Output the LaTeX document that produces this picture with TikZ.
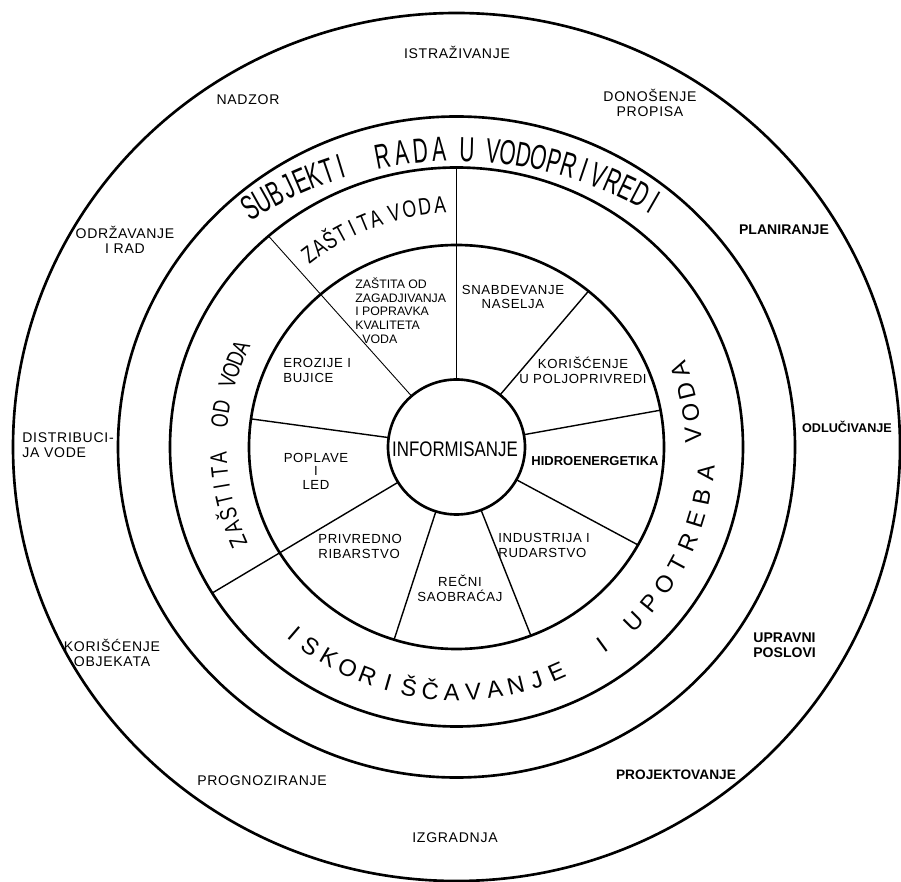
\documentclass[tikz,border=0pt]{standalone}
\usepackage{fontspec}
\setmainfont{Liberation Sans}
\newfontfamily\narrowfont[FakeStretch=0.6]{Liberation Sans}
\newfontfamily\ringfont[FakeStretch=0.75]{Liberation Sans}
\newfontfamily\infofont[FakeStretch=0.8]{Liberation Sans}
\newfontfamily\labelfont[LetterSpace=5]{Liberation Sans}

\begin{document}
\begin{tikzpicture}[x=0.02cm, y=0.02cm,
  ring/.style={line width=1.5pt},
  spoke/.style={line width=0.8pt},
  thinspoke/.style={line width=0.5pt},
  sector/.style={font=\labelfont\fontsize{7.5}{8.5}\selectfont, align=center, inner sep=0pt},
  boldsector/.style={sector, font=\bfseries\fontsize{7.4}{8.5}\selectfont},
  outer/.style={font=\labelfont\fontsize{8}{8.5}\selectfont, align=center, inner sep=0pt},
  boldouter/.style={outer, font=\bfseries\fontsize{8}{8.8}\selectfont},
  bigletter/.style={font=\narrowfont\fontsize{19.8}{20}\selectfont, anchor=base, inner sep=0pt},
  ringletter/.style={font=\ringfont\fontsize{13.5}{14}\selectfont, anchor=base, inner sep=0pt},
  wideletter/.style={font=\fontsize{13.5}{14}\selectfont, anchor=base, inner sep=0pt}]
  \path[use as bounding box, fill=white] (-456.5,-434) rectangle (444.5,447);

  % rings
  \foreach \rx/\ry in {443.5/434, 338.5/330.5, 286.5/279.5, 207.5/202, 68.5/67.5}
    \draw[ring] (0,0) ellipse [x radius=\rx, y radius=\ry];

  % sector borders
  \foreach \a in {50.5, 10.5, -29, -69, -107.5, 172}
    \draw[spoke] (\a:68.5 and 67.5) -- (\a:207.5 and 202);
  \draw[spoke] (211.5:68.5 and 67.5) -- (211.5:286.5 and 279.5);
  \draw[thinspoke] (131:68.5 and 67.5) -- (131:286.5 and 279.5);
  \draw[thinspoke] (90:68.5 and 67.5) -- (90:286.5 and 279.5);

  % centre
  \node[font=\infofont\fontsize{12}{12}\selectfont, inner sep=0pt] (info) at (-1.5,-2) {INFORMISANJE};

  % inner sectors
  \node[sector, align=left, anchor=west, font=\fontsize{7}{7.8}\selectfont] (zagad) at (-101.5,136.5)
    {ZAŠTITA OD\\ZAGADJIVANJA\\I POPRAVKA\\KVALITETA\\\hspace*{4pt}VODA};
  \node[sector] (snabd) at (56.5,150) {SNABDEVANJE\\NASELJA};
  \node[sector] (poljo) at (126.5,77) {KORIŠĆENJE\\U POLJOPRIVREDI};
  \node[boldsector] (hidro) at (138.5,-14) {HIDROENERGETIKA};
  \node[sector, align=left, anchor=west] (indus) at (41.5,-98) {INDUSTRIJA I\\RUDARSTVO};
  \node[sector] (recni) at (3.5,-141) {REČNI\\SAOBRAĆAJ};
  \node[sector, align=left, anchor=west] (ribar) at (-138.5,-99) {PRIVREDNO\\RIBARSTVO};
  \node[sector, font=\labelfont\fontsize{7.5}{7.7}\selectfont] (poplave) at (-140.5,-24) {POPLAVE\\I\\LED};
  \node[sector, align=left, anchor=west] (erozije) at (-173.5,77) {EROZIJE I\\BUJICE};

  % outer ring
  \node[outer] (istraz) at (0.5,395) {ISTRAŽIVANJE};
  \node[outer] (nadzor) at (-208.5,347) {NADZOR};
  \node[outer] (propisi) at (193.5,344) {DONOŠENJE\\PROPISA};
  \node[boldouter] (plan) at (327.5,217) {PLANIRANJE};
  \node[boldouter, font=\bfseries\fontsize{7.2}{8}\selectfont] (odluc) at (390.5,20) {ODLUČIVANJE};
  \node[boldouter, align=left, anchor=west] (upravni) at (296.5,-198) {UPRAVNI\\POSLOVI};
  \node[boldouter, font=\bfseries\fontsize{7.8}{8.5}\selectfont] (projekt) at (219.5,-328) {PROJEKTOVANJE};
  \node[outer] (izgrad) at (-1.5,-391) {IZGRADNJA};
  \node[outer] (prognoz) at (-194.5,-334) {PROGNOZIRANJE};
  \node[outer] (objekti) at (-344.5,-206) {KORIŠĆENJE\\OBJEKATA};
  \node[outer, align=left, anchor=west] (distrib) at (-434.5,2) {DISTRIBUCI-\\JA VODE};
  \node[outer] (odrz) at (-331.5,207) {ODRŽAVANJE\\I RAD};

  % SUBJEKTI RADA U VODOPRIVREDI
  \begin{scope}[shift={(0,-98.7)}]
    \foreach \ch [count=\i from 0] in {S,U,B,J,E,K,T,I}
      {\pgfmathsetmacro\ang{121.4-2.07*\i}
       \node[bigletter, rotate=\ang-90] (subj\i) at (\ang:384.5) {\ch};}
    \foreach \ch [count=\i from 0] in {R,A,D,A}
      {\pgfmathsetmacro\ang{100.7-2.73*\i}
       \node[bigletter, rotate=\ang-90] (rada\i) at (\ang:384.5) {\ch};}
    \node[bigletter, rotate=-1.5] (uu) at (88.5:384.5) {U};
    \foreach \ch [count=\i from 0] in {V,O,D,O,P,R,I,V,R,E,D,I}
      {\pgfmathsetmacro\ang{84.7-2.24*\i}
       \node[bigletter, rotate=\ang-90] (vodop\i) at (\ang:384.5) {\ch};}
  \end{scope}

  % ZAŠTITA VODA
  \foreach \ch [count=\i from 0] in {Z,A,Š,T,I,T,A}
    {\pgfmathsetmacro\ang{127.4-3.0*\i}
     \node[ringletter, rotate=\ang-90] (zv\i) at (\ang:235 and 234) {\ch};}
  \foreach \ch [count=\i from 0] in {V,O,D,A}
    {\pgfmathsetmacro\ang{104.8-3.63*\i}
     \node[ringletter, rotate=\ang-90] (zvv\i) at (\ang:235 and 234) {\ch};}

  % ZAŠTITA OD VODA
  \foreach \ch [count=\i from 0] in {Z,A,Š,T,I,T,A}
    {\pgfmathsetmacro\ang{203.6-3.5*\i}
     \node[ringletter, rotate=\ang-90] (zo\i) at (\ang:230 and 228) {\ch};}
  \foreach \ch [count=\i from 0] in {O,D}
    {\pgfmathsetmacro\ang{173.5-3.2*\i}
     \node[ringletter, rotate=\ang-90] (zod\i) at (\ang:230 and 228) {\ch};}
  \foreach \ch [count=\i from 0] in {V,O,D,A}
    {\pgfmathsetmacro\ang{164-3.0*\i}
     \node[ringletter, rotate=\ang-90] (zov\i) at (\ang:230 and 228) {\ch};}

  % ISKORIŠČAVANJE I UPOTREBA VODA
  \foreach \ch [count=\i from 0] in {I,S,K,O,R,I,Š,Č,A,V,A,N,J,E}
    {\pgfmathsetmacro\ang{229.3+4.95*\i}
     \node[wideletter, rotate=\ang+90] (isk\i) at (\ang:257.5 and 253.5) {\ch};}
  \node[wideletter, rotate=396] (iand) at (306:257 and 253) {I};
  \foreach \ch [count=\i from 0] in {U,P,O,T,R,E,B,A}
    {\pgfmathsetmacro\ang{315.1+5.55*\i}
     \node[wideletter, rotate=\ang+90] (upo\i) at (\ang:259 and 255) {\ch};}
  \foreach \ch [count=\i from 0] in {V,O,D,A}
    {\pgfmathsetmacro\ang{362.9+5.5*\i}
     \node[wideletter, rotate=\ang+90] (uv\i) at (\ang:245 and 241) {\ch};}
\end{tikzpicture}
\end{document}
